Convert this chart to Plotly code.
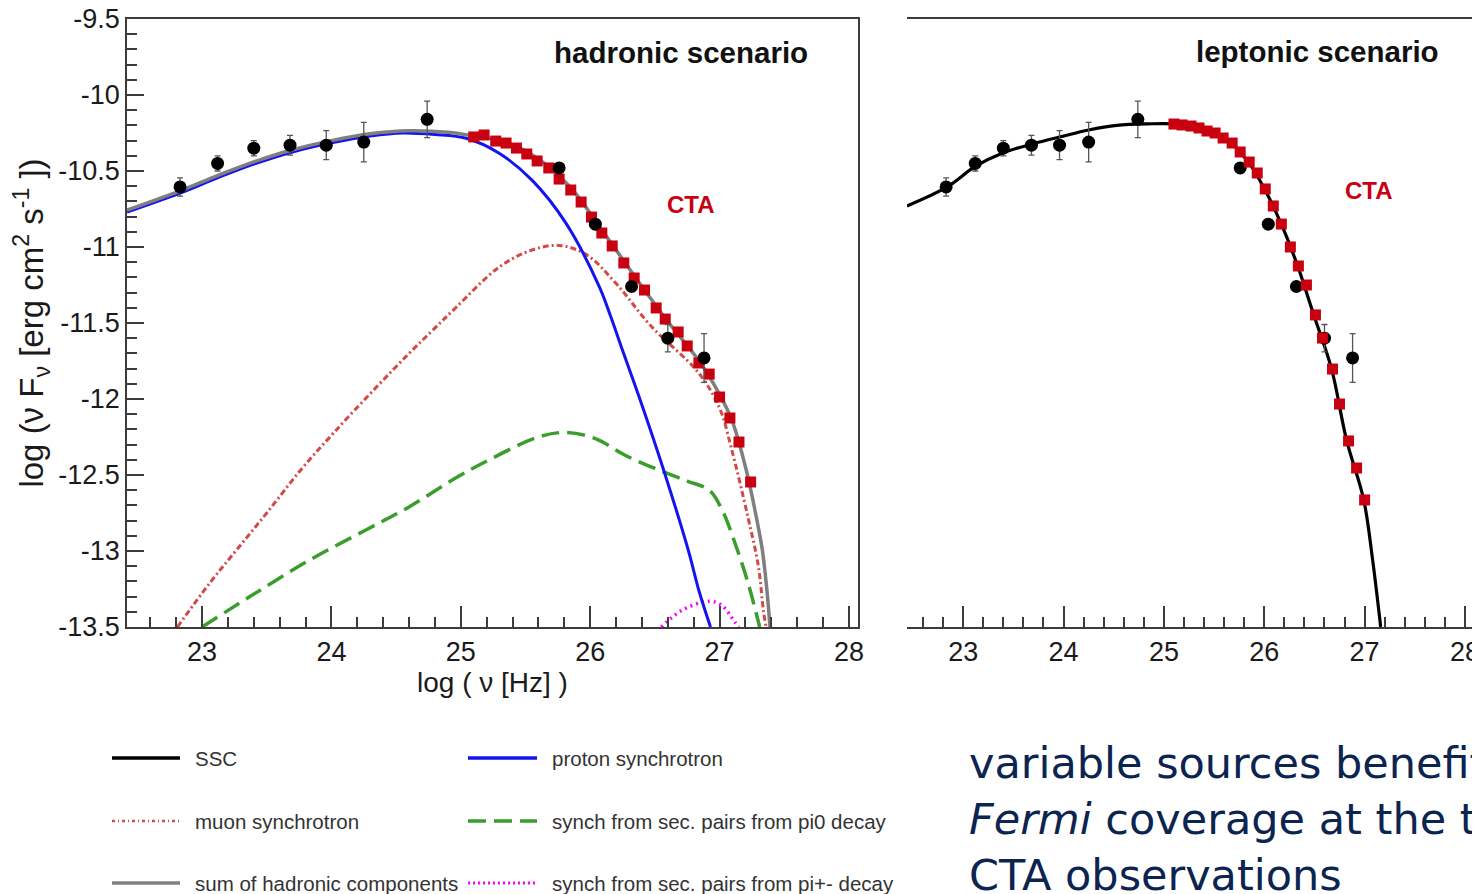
import plotly.graph_objects as go

# page body has an 8px default margin; figure fills the rest of the 1480x894 window
OFF = 8
W, H = 1480 - OFF, 894 - OFF

# ---------------- data ----------------
# Fermi-LAT points (same in both panels)
fermi_x = [22.83, 23.12, 23.40, 23.68, 23.96, 24.25, 24.74, 25.76, 26.04, 26.32, 26.60, 26.88]
fermi_y = [-10.605, -10.45, -10.35, -10.33, -10.33, -10.31, -10.16, -10.48, -10.85, -11.26, -11.60, -11.73]
fermi_err = [0.06, 0.05, 0.05, 0.065, 0.095, 0.13, 0.12, 0.02, 0.02, 0.02, 0.09, 0.16]

# CTA simulated points
cta_x = [25.10, 25.18, 25.27, 25.35, 25.43, 25.51, 25.59, 25.68, 25.76, 25.85, 25.93, 26.01,
         26.09, 26.17, 26.26, 26.34, 26.42, 26.51, 26.58, 26.68, 26.75, 26.84, 26.92, 27.00,
         27.08, 27.15, 27.24]
cta_had_y = [-10.276, -10.263, -10.303, -10.316, -10.349, -10.388, -10.434, -10.480, -10.553,
             -10.625, -10.704, -10.803, -10.908, -10.993, -11.105, -11.204, -11.283, -11.401,
             -11.474, -11.559, -11.651, -11.763, -11.836, -11.987, -12.125, -12.283, -12.546]
cta_lep_y = [-10.191, -10.197, -10.204, -10.217, -10.237, -10.250, -10.283, -10.316, -10.375,
             -10.441, -10.513, -10.618, -10.730, -10.849, -11.000, -11.125, -11.250, -11.447,
             -11.599, -11.803, -12.033, -12.276, -12.454, -12.664]

# hadronic model components
sum_x = [22.42, 22.83, 23.12, 23.40, 23.70, 24.00, 24.30, 24.60, 24.90, 25.10, 25.35, 25.60,
         25.85, 26.10, 26.35, 26.60, 26.85, 27.00, 27.10, 27.21, 27.28, 27.33, 27.365, 27.39]
sum_y = [-10.757, -10.63, -10.53, -10.44, -10.36, -10.30, -10.255, -10.235, -10.245, -10.27,
         -10.31, -10.42, -10.61, -10.90, -11.20, -11.49, -11.76, -11.97, -12.15, -12.48,
         -12.76, -12.99, -13.25, -13.5]

psyn_x = [22.42, 22.83, 23.12, 23.40, 23.70, 24.00, 24.30, 24.55, 24.80, 25.04, 25.29, 25.55,
          25.81, 26.07, 26.16, 26.25, 26.40, 26.58, 26.76, 26.84, 26.93]
psyn_y = [-10.77, -10.645, -10.545, -10.455, -10.375, -10.315, -10.27, -10.25, -10.26, -10.285,
          -10.38, -10.56, -10.84, -11.26, -11.46, -11.68, -12.04, -12.50, -13.00, -13.26, -13.5]

muon_x = [22.81, 23.06, 23.27, 23.50, 23.76, 24.02, 24.35, 24.60, 24.78, 24.96, 25.30, 25.55,
          25.76, 25.97, 26.20, 26.47, 26.84, 27.00, 27.09, 27.22, 27.30, 27.34, 27.36]
muon_y = [-13.5, -13.21, -12.99, -12.75, -12.47, -12.22, -11.92, -11.70, -11.55, -11.40, -11.13,
          -11.02, -10.99, -11.05, -11.24, -11.52, -11.83, -12.06, -12.32, -12.78, -13.10, -13.40,
          -13.5]

pi0_x = [23.00, 23.37, 23.83, 24.27, 24.60, 24.96, 25.22, 25.60, 25.81, 26.04, 26.27, 26.51,
         26.75, 26.92, 27.02, 27.12, 27.22, 27.31]
pi0_y = [-13.5, -13.30, -13.06, -12.86, -12.71, -12.52, -12.40, -12.25, -12.22, -12.26, -12.37,
         -12.46, -12.54, -12.60, -12.73, -12.95, -13.21, -13.5]

pipm_x = [26.55, 26.71, 26.92, 27.02, 27.12, 27.15]
pipm_y = [-13.5, -13.39, -13.33, -13.36, -13.47, -13.5]

# leptonic model
ssc_x = [22.44, 22.84, 23.12, 23.40, 23.70, 23.97, 24.25, 24.53, 24.84, 25.09, 25.35, 25.61,
         25.84, 26.00, 26.17, 26.33, 26.49, 26.67, 26.82, 26.99, 27.08, 27.16]
ssc_y = [-10.73, -10.605, -10.47, -10.38, -10.32, -10.275, -10.23, -10.20, -10.19, -10.19,
         -10.215, -10.28, -10.44, -10.615, -10.85, -11.12, -11.44, -11.80, -12.27, -12.66,
         -13.06, -13.5]

yticks = [-13.5, -13, -12.5, -12, -11.5, -11, -10.5, -10, -9.5]
yticklabels = ["-13.5", "-13", "-12.5", "-12", "-11.5", "-11", "-10.5", "-10", "-9.5"]

legend_rows = [
    ("SSC", "#000000", "solid", 3.5, "proton synchrotron", "#1414f0", "solid", 3.5),
    ("muon synchrotron", "#d24a48", "3px,3px,1px,3px", 2.5,
     "synch from sec. pairs from pi0 decay", "#3a9e2c", "18px,8px", 3.5),
    ("sum of hadronic components", "#808080", "solid", 3.5,
     "synch from sec. pairs from pi+- decay", "#ff00ff", "2px,3px", 3),
]

# ---------------- figure ----------------
FONT = "Liberation Sans, Arial, Helvetica, sans-serif"
AX = "#3c3c3c"

def px(x):
    return (x - OFF) / W

def py(y):
    return 1 - (y - OFF) / H

fig = go.Figure()

# left panel: hadronic
fig.add_trace(go.Scatter(x=muon_x, y=muon_y, mode="lines", line_shape="spline",
                         line=dict(color="#d24a48", width=3, dash="6px,3px,2px,3px"),
                         xaxis="x", yaxis="y"))
fig.add_trace(go.Scatter(x=pi0_x, y=pi0_y, mode="lines", line_shape="spline",
                         line=dict(color="#3a9e2c", width=3.5, dash="18px,8px"),
                         xaxis="x", yaxis="y"))
fig.add_trace(go.Scatter(x=pipm_x, y=pipm_y, mode="lines", line_shape="spline",
                         line=dict(color="#ff00ff", width=3.5, dash="2px,4px"),
                         xaxis="x", yaxis="y"))
fig.add_trace(go.Scatter(x=psyn_x, y=psyn_y, mode="lines", line_shape="spline",
                         line=dict(color="#1414f0", width=3),
                         xaxis="x", yaxis="y"))
fig.add_trace(go.Scatter(x=sum_x, y=sum_y, mode="lines", line_shape="spline",
                         line=dict(color="#7f7f7f", width=3.5),
                         xaxis="x", yaxis="y"))
fig.add_trace(go.Scatter(x=cta_x, y=cta_had_y, mode="markers",
                         marker=dict(symbol="square", size=11, color="#c8000f"),
                         xaxis="x", yaxis="y"))
fig.add_trace(go.Scatter(x=fermi_x, y=fermi_y, mode="markers",
                         marker=dict(symbol="circle", size=13, color="#000000"),
                         error_y=dict(type="data", array=fermi_err, color="#555555",
                                      thickness=1.3, width=3),
                         xaxis="x", yaxis="y"))

# right panel: leptonic
fig.add_trace(go.Scatter(x=ssc_x, y=ssc_y, mode="lines", line_shape="spline",
                         line=dict(color="#000000", width=3.2),
                         xaxis="x2", yaxis="y2"))
fig.add_trace(go.Scatter(x=fermi_x, y=fermi_y, mode="markers",
                         marker=dict(symbol="circle", size=13, color="#000000"),
                         error_y=dict(type="data", array=fermi_err, color="#555555",
                                      thickness=1.3, width=3),
                         xaxis="x2", yaxis="y2"))
fig.add_trace(go.Scatter(x=cta_x[:len(cta_lep_y)], y=cta_lep_y, mode="markers",
                         marker=dict(symbol="square", size=11, color="#c8000f"),
                         xaxis="x2", yaxis="y2"))

tickfont = dict(family=FONT, size=27, color="#1a1a1a")
ydom = [py(627), py(19)]

xcommon = dict(tickmode="linear", tick0=23, dtick=1, ticks="inside", ticklen=21,
               tickwidth=1.5, tickcolor=AX, showline=True, linecolor=AX, linewidth=1.8,
               mirror=True, showgrid=False, zeroline=False, tickfont=tickfont,
               automargin=False, ticklabeloverflow="allow",
               minor=dict(tickmode="linear", tick0=23, dtick=0.2, ticks="inside",
                          ticklen=10, tickwidth=1.5, tickcolor=AX, showgrid=False))

fig.update_layout(
    width=W, height=H,
    margin=dict(l=0, r=0, t=0, b=0, autoexpand=False),
    paper_bgcolor="white", plot_bgcolor="white",
    showlegend=False,
    xaxis=dict(domain=[px(127), px(858)], range=[22.42, 28.07], anchor="y",
               title=dict(text="log ( \u03bd [Hz] )", font=dict(family=FONT, size=28, color="#1a1a1a"),
                          standoff=2),
               **xcommon),
    yaxis=dict(domain=ydom, range=[-13.5, -9.5], anchor="x",
               tickmode="array", tickvals=yticks, ticktext=yticklabels,
               ticks="inside", ticklen=17, tickwidth=1.5, tickcolor=AX,
               showline=True, linecolor=AX, linewidth=1.8, mirror=True,
               showgrid=False, zeroline=False, tickfont=tickfont, automargin=False,
               ticklabeloverflow="allow",
               minor=dict(tickmode="linear", tick0=-13.5, dtick=0.1, ticks="inside",
                          ticklen=10, tickwidth=1.5, tickcolor=AX, showgrid=False),
               title=dict(text="log (\u03bd F<sub>\u03bd</sub> [erg cm<sup>2</sup> s<sup>-1</sup> ])",
                          font=dict(family=FONT, size=33, color="#1a1a1a"), standoff=6)),
    xaxis2=dict(domain=[px(907), px(1472)], range=[22.44, 28.07], anchor="y2", **xcommon),
    yaxis2=dict(domain=ydom, range=[-13.5, -9.5], anchor="x2", side="right",
                showline=True, linecolor=AX, linewidth=1.8, ticks="", automargin=False,
                showticklabels=False, showgrid=False, zeroline=False),
)

annots = [
    dict(x=26.70, y=-9.72, xref="x", yref="y", text="<b>hadronic scenario</b>",
         font=dict(family=FONT, size=29.5, color="#111111"), showarrow=False),
    dict(x=26.53, y=-9.715, xref="x2", yref="y2", text="<b>leptonic scenario</b>",
         font=dict(family=FONT, size=29.5, color="#111111"), showarrow=False),
    dict(x=26.78, y=-10.72, xref="x", yref="y", text="<b>CTA</b>",
         font=dict(family=FONT, size=24, color="#c8000f"), showarrow=False),
    dict(x=27.04, y=-10.625, xref="x2", yref="y2", text="<b>CTA</b>",
         font=dict(family=FONT, size=24, color="#c8000f"), showarrow=False),
    dict(x=px(967), y=py(736), xref="paper", yref="paper", xanchor="left", yanchor="top",
         align="left",
         text="variable sources benefit from<br><i>Fermi</i> coverage at the time of<br>CTA observations",
         font=dict(family="DejaVu Sans, sans-serif", size=43, color="#0c2450"),
         showarrow=False),
]

shapes = []
row_y = [758, 821, 883]
for (t1, c1, d1, w1, t2, c2, d2, w2), yy in zip(legend_rows, row_y):
    shapes.append(dict(type="line", xref="paper", yref="paper", x0=px(112), x1=px(180),
                       y0=py(yy), y1=py(yy), line=dict(color=c1, width=w1, dash=d1)))
    shapes.append(dict(type="line", xref="paper", yref="paper", x0=px(468), x1=px(537),
                       y0=py(yy), y1=py(yy), line=dict(color=c2, width=w2, dash=d2)))
    annots.append(dict(x=px(193), y=py(yy), xref="paper", yref="paper", xanchor="left",
                       yanchor="middle", text=t1, showarrow=False,
                       font=dict(family=FONT, size=20.5, color="#333333")))
    annots.append(dict(x=px(550), y=py(yy), xref="paper", yref="paper", xanchor="left",
                       yanchor="middle", text=t2, showarrow=False,
                       font=dict(family=FONT, size=20.5, color="#333333")))

fig.update_layout(annotations=annots, shapes=shapes)

fig.write_html("out.html")
